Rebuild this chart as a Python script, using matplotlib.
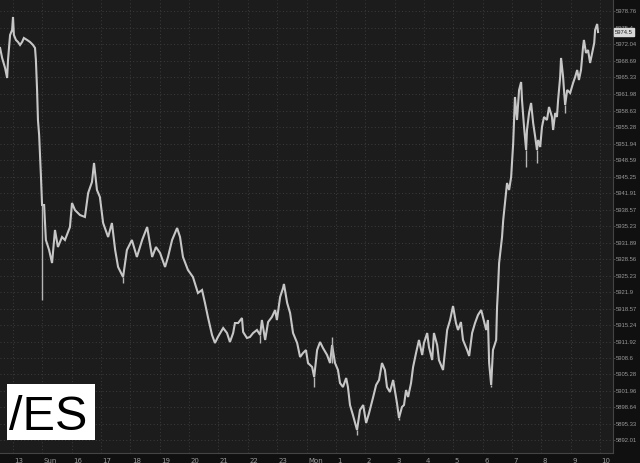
import matplotlib.pyplot as plt
from matplotlib.patches import Rectangle

# hours after 13:00 (weekend gap compressed) and traded price
horas = [-0.44, -0.37, -0.27, -0.20, -0.17, -0.10, -0.03, 0.00, 0.03, 0.10,
         0.17, 0.24, 0.31, 0.37, 0.48, 0.58, 0.68, 0.75, 0.78, 0.82,
         0.85, 0.89, 0.92, 0.95, 0.99, 1.06, 1.12, 1.23, 1.33, 1.43,
         1.53, 1.67, 1.77, 1.94, 2.01, 2.11, 2.28, 2.45, 2.56, 2.69,
         2.76, 2.86, 2.96, 3.07, 3.24, 3.37, 3.48, 3.58, 3.75, 3.88,
         4.05, 4.22, 4.40, 4.57, 4.74, 4.87, 5.01, 5.18, 5.28, 5.42,
         5.59, 5.69, 5.79, 5.96, 6.13, 6.30, 6.44, 6.54, 6.64, 6.78,
         6.88, 6.98, 7.16, 7.29, 7.39, 7.50, 7.56, 7.67, 7.80, 7.84,
         7.97, 8.07, 8.18, 8.31, 8.42, 8.48, 8.59, 8.69, 8.82, 8.93,
         8.99, 9.10, 9.20, 9.23, 9.34, 9.44, 9.54, 9.68, 9.78, 9.88,
         9.98, 10.05, 10.19, 10.26, 10.36, 10.46, 10.56, 10.70, 10.80, 10.87,
         10.97, 11.07, 11.14, 11.24, 11.35, 11.41, 11.48, 11.58, 11.72, 11.82,
         11.93, 12.03, 12.13, 12.27, 12.37, 12.47, 12.57, 12.67, 12.74, 12.84,
         12.95, 13.08, 13.15, 13.25, 13.32, 13.39, 13.46, 13.56, 13.63, 13.73,
         13.83, 13.94, 14.00, 14.11, 14.17, 14.28, 14.34, 14.45, 14.51, 14.65,
         14.72, 14.79, 14.89, 14.99, 15.09, 15.16, 15.26, 15.33, 15.47, 15.54,
         15.64, 15.74, 15.84, 15.95, 16.01, 16.12, 16.18, 16.22, 16.29, 16.35,
         16.46, 16.49, 16.52, 16.56, 16.66, 16.70, 16.76, 16.83, 16.90, 16.97,
         17.04, 17.07, 17.10, 17.17, 17.24, 17.31, 17.34, 17.41, 17.48, 17.51,
         17.58, 17.65, 17.72, 17.79, 17.85, 17.89, 17.96, 18.02, 18.09, 18.19,
         18.26, 18.36, 18.40, 18.47, 18.53, 18.57, 18.64, 18.67, 18.74, 18.77,
         18.81, 18.88, 18.98, 19.08, 19.15, 19.22, 19.28, 19.35, 19.42, 19.45,
         19.52, 19.59, 19.66, 19.73, 19.80, 19.83, 19.90, 19.93]
precos = [5971.28, 5969.26, 5967.23, 5965.21, 5968.85, 5973.91, 5974.92, 5977.55, 5973.91, 5972.90,
          5972.49, 5971.89, 5972.49, 5973.30, 5972.90, 5972.49, 5971.89, 5971.28, 5968.85, 5962.79,
          5956.72, 5953.69, 5949.64, 5945.60, 5939.53, 5939.53, 5932.46, 5930.43, 5927.80, 5934.48,
          5931.04, 5933.06, 5932.46, 5935.08, 5939.94, 5938.52, 5937.51, 5937.11, 5941.96, 5944.18,
          5948.03, 5942.57, 5941.15, 5935.89, 5933.06, 5935.89, 5930.43, 5927.00, 5924.97, 5930.43,
          5932.46, 5929.02, 5932.46, 5935.08, 5929.02, 5931.04, 5929.83, 5927.00, 5929.02, 5932.46,
          5934.88, 5933.06, 5929.02, 5926.39, 5924.97, 5921.74, 5922.35, 5919.72, 5916.89, 5913.25,
          5911.63, 5912.84, 5914.66, 5913.65, 5911.83, 5913.65, 5915.67, 5915.67, 5916.68, 5913.85,
          5912.64, 5912.84, 5913.65, 5914.26, 5913.25, 5916.28, 5912.24, 5915.87, 5916.89, 5918.30,
          5916.28, 5920.93, 5922.75, 5923.56, 5919.72, 5917.69, 5913.65, 5911.63, 5908.80, 5909.60,
          5910.21, 5907.58, 5906.78, 5904.75, 5910.21, 5911.83, 5910.62, 5909.20, 5907.58, 5911.22,
          5907.58, 5906.17, 5903.54, 5902.73, 5904.55, 5902.73, 5899.09, 5897.07, 5894.04, 5898.08,
          5899.09, 5895.45, 5897.47, 5900.71, 5903.14, 5904.15, 5907.58, 5906.17, 5902.73, 5901.72,
          5904.15, 5899.49, 5896.46, 5898.69, 5899.09, 5902.12, 5900.71, 5903.54, 5906.78, 5909.60,
          5912.24, 5909.20, 5911.63, 5913.65, 5910.82, 5908.19, 5913.65, 5911.22, 5908.19, 5906.17,
          5910.21, 5914.26, 5916.28, 5919.11, 5915.67, 5914.26, 5915.87, 5912.24, 5910.21, 5909.00,
          5913.65, 5915.67, 5917.29, 5918.30, 5916.89, 5914.26, 5916.28, 5907.58, 5903.14, 5910.21,
          5912.24, 5918.91, 5922.35, 5927.80, 5933.06, 5936.50, 5939.94, 5943.98, 5942.57, 5945.19,
          5952.07, 5956.72, 5961.37, 5956.72, 5962.79, 5964.40, 5960.76, 5955.30, 5950.65, 5954.70,
          5958.13, 5960.16, 5956.11, 5953.28, 5950.65, 5952.68, 5951.26, 5955.30, 5957.33, 5956.72,
          5959.35, 5957.33, 5954.70, 5958.13, 5957.33, 5960.76, 5965.41, 5969.26, 5965.41, 5962.79,
          5959.75, 5962.79, 5962.18, 5964.20, 5965.41, 5966.83, 5964.81, 5966.83, 5971.48, 5972.90,
          5970.27, 5970.87, 5968.25, 5970.27, 5972.29, 5974.92, 5976.13, 5974.50]

# long wicks (time, body end, far end of the bar)
pavio_horas = [1.00, 3.75, 8.42, 10.26, 10.87, 11.72, 13.15, 16.29, 17.48, 17.85, 18.81]
pavio_base = [5939.53, 5924.97, 5913.25, 5904.75, 5907.58, 5894.04, 5896.46, 5903.14, 5950.65, 5950.65, 5959.75]
pavio_ponta = [5920.32, 5923.76, 5911.63, 5902.73, 5912.84, 5893.03, 5896.06, 5902.73, 5947.22, 5948.03, 5958.13]

rotulos_x = ['13', 'Sun', '16', '17', '18', '19', '20', '21', '22', '23', 'Mon',
             '1', '2', '3', '4', '5', '6', '7', '8', '9', '10']
niveis_y = [5892.01, 5895.33, 5898.64, 5901.96, 5905.28, 5908.6, 5911.92, 5915.24,
            5918.57, 5921.9, 5925.23, 5928.56, 5931.89, 5935.23, 5938.57, 5941.91,
            5945.25, 5948.59, 5951.94, 5955.28, 5958.63, 5961.98, 5965.33, 5968.69,
            5972.04, 5975.4, 5978.76]
ultimo = 5974.5

fundo = '#1c1c1c'
fig = plt.figure(figsize=(6.4, 4.63), dpi=100, facecolor='#101010')
ax = fig.add_axes([0, 10 / 463, 613 / 640, 453 / 463], facecolor=fundo)

ax.plot(horas, precos, color='#c6c6c6', lw=1.5, solid_joinstyle='miter')
ax.vlines(pavio_horas, pavio_base, pavio_ponta, color='#b5b5b5', lw=1.0)

ax.set_xlim(-0.443, 20.44)
ax.set_ylim(5889.39, 5980.98)

ax.set_xticks(range(len(rotulos_x)))
ax.set_xticklabels([])
for i, r in enumerate(rotulos_x):
    ax.text(i + 0.05, -0.012, r, transform=ax.get_xaxis_transform(),
            ha='left', va='top', fontsize=5, color='#9a9a9a')
ax.tick_params(axis='x', length=0)

ax.yaxis.tick_right()
ax.set_yticks(niveis_y)
ax.set_yticklabels([str(v) for v in niveis_y], family='Liberation Sans')
ax.tick_params(axis='y', length=1.5, width=0.6, color='#555555', labelsize=4.2,
               labelcolor='#9a9a9a', pad=0.8)

ax.grid(True, color='#3c3c3c', linestyle=(0, (1, 2.5)), lw=0.7)
for lado in ['top', 'left']:
    ax.spines[lado].set_visible(False)
for lado in ['right', 'bottom']:
    ax.spines[lado].set_color('#444444')
    ax.spines[lado].set_linewidth(0.8)

# current price marker on the axis
ax.annotate(str(ultimo), xy=(1.0, ultimo), xycoords=ax.get_yaxis_transform(),
            xytext=(1.5, 0), textcoords='offset points', ha='left', va='center',
            fontsize=4.2, family='Liberation Sans', color='#222222',
            bbox=dict(boxstyle='square,pad=0.2', fc='#d9d9d9', ec='#d9d9d9'),
            annotation_clip=False, zorder=10)

# symbol label
fig.patches.append(Rectangle((7 / 640, 1 - 440 / 463), 88 / 640, 56 / 463,
                             transform=fig.transFigure, facecolor='white',
                             edgecolor='none', zorder=5))
fig.text(9 / 640, 1 - 430 / 463, '/ES', fontsize=35, family='Liberation Sans',
         color='black', ha='left', va='baseline', zorder=6)

plt.savefig('out.png', dpi=100, facecolor=fig.get_facecolor())
